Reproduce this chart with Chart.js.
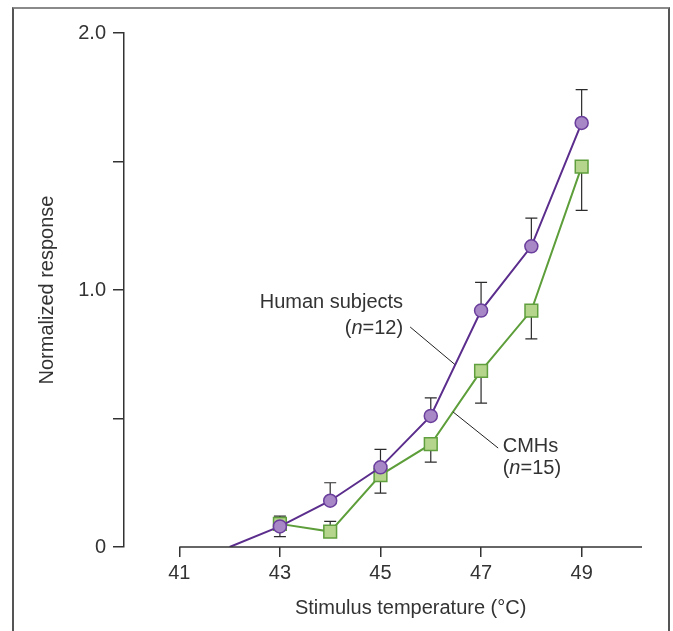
<!DOCTYPE html>
<html>
<head>
<meta charset="utf-8">
<script src="https://cdn.jsdelivr.net/npm/chart.js@4"></script>
<style>
  body { margin: 0; background: #fff; }
  #wrap { position: relative; width: 673px; height: 631px; overflow: hidden; }
  #frame { position: absolute; left: 12px; top: 7px; width: 658px; height: 700px; border: 2px solid #555; border-top-color: #8a8a8a; box-sizing: border-box; }
  canvas { position: absolute; left: 0; top: 0; }
</style>
</head>
<body>
<div id="wrap">
  <div id="frame"></div>
  <canvas id="c" width="673" height="631"></canvas>
</div>
<script>
// values
const humanTemps = [42, 43, 44, 45, 46, 47, 48, 49];
const humanResp = [0, 0.08, 0.18, 0.31, 0.51, 0.92, 1.17, 1.65];
const humanErrHigh = [null, 0.12, 0.25, 0.38, 0.58, 1.03, 1.28, 1.78];

const cmhTemps = [43, 44, 45, 46, 47, 48, 49];
const cmhResp = [0.09, 0.06, 0.28, 0.40, 0.685, 0.92, 1.48];
const cmhErrLow = [0.04, null, 0.21, 0.33, 0.56, 0.81, 1.31];
const cmhErrHigh = [null, 0.10, null, null, null, null, null];

const xTicks = [41, 43, 45, 47, 49];
const yTicks = [0, 0.5, 1, 1.5, 2];
const yTickLabels = { 0: '0', 1: '1.0', 2: '2.0' };

const FONT = '"Liberation Sans", Arial, sans-serif';
const INK = '#333';

const pts = (xs, ys) => xs.map((x, i) => ({ x: x, y: ys[i] }));

const extras = {
  id: 'extras',
  beforeDatasetsDraw(chart) {
    const { ctx, scales: { x, y } } = chart;
    ctx.save();
    ctx.strokeStyle = '#2b2b2b';
    ctx.lineWidth = 1.2;
    const bar = (t, v0, v1) => {
      const px = x.getPixelForValue(t);
      const a = y.getPixelForValue(v0), b = y.getPixelForValue(v1);
      ctx.beginPath();
      ctx.moveTo(px, a); ctx.lineTo(px, b);
      ctx.moveTo(px - 6, b); ctx.lineTo(px + 6, b);
      ctx.stroke();
    };
    humanTemps.forEach((t, i) => { if (humanErrHigh[i] != null) bar(t, humanResp[i], humanErrHigh[i]); });
    cmhTemps.forEach((t, i) => {
      if (cmhErrLow[i] != null) bar(t, cmhResp[i], cmhErrLow[i]);
      if (cmhErrHigh[i] != null) bar(t, cmhResp[i], cmhErrHigh[i]);
    });
    ctx.restore();
  },
  afterDraw(chart) {
    const { ctx, chartArea, scales: { x, y } } = chart;
    ctx.save();
    // x axis line, starting at the first tick
    ctx.strokeStyle = INK;
    ctx.lineWidth = 1.5;
    ctx.beginPath();
    ctx.moveTo(x.getPixelForValue(xTicks[0]), chartArea.bottom);
    ctx.lineTo(chartArea.right, chartArea.bottom);
    ctx.stroke();

    // x axis title, centred under the drawn axis
    ctx.fillStyle = INK;
    ctx.font = '20px ' + FONT;
    ctx.textAlign = 'center';
    ctx.textBaseline = 'middle';
    ctx.fillText('Stimulus temperature (°C)', (x.getPixelForValue(xTicks[0]) + chartArea.right) / 2, 608);

    // labels with leader lines
    const lead = (x0, y0, x1, y1) => {
      ctx.strokeStyle = '#222';
      ctx.lineWidth = 1;
      ctx.beginPath();
      ctx.moveTo(x.getPixelForValue(x0), y.getPixelForValue(y0));
      ctx.lineTo(x.getPixelForValue(x1), y.getPixelForValue(y1));
      ctx.stroke();
    };
    const nLabel = (px, py, num, align) => {
      const parts = [['(', '20px '], ['n', 'italic 20px '], ['=' + num + ')', '20px ']];
      let w = 0;
      parts.forEach(p => { ctx.font = p[1] + FONT; w += ctx.measureText(p[0]).width; });
      let cx = align === 'right' ? px - w : px;
      ctx.textAlign = 'left';
      parts.forEach(p => { ctx.font = p[1] + FONT; ctx.fillText(p[0], cx, py); cx += ctx.measureText(p[0]).width; });
    };
    ctx.fillStyle = INK;
    ctx.textBaseline = 'middle';
    ctx.font = '20px ' + FONT;
    ctx.textAlign = 'right';
    ctx.fillText('Human subjects', x.getPixelForValue(45.45), y.getPixelForValue(0.95));
    nLabel(x.getPixelForValue(45.45), y.getPixelForValue(0.852), 12, 'right');
    lead(45.59, 0.856, 46.48, 0.71);

    ctx.font = '20px ' + FONT;
    ctx.textAlign = 'left';
    ctx.fillText('CMHs', x.getPixelForValue(47.43), y.getPixelForValue(0.393));
    nLabel(x.getPixelForValue(47.43), y.getPixelForValue(0.307), 15, 'left');
    lead(46.44, 0.526, 47.34, 0.385);
    ctx.restore();
  }
};

new Chart(document.getElementById('c'), {
  type: 'line',
  data: {
    datasets: [
      {
        label: 'Human subjects',
        data: pts(humanTemps, humanResp),
        borderColor: '#5b2d8c',
        borderWidth: 2,
        backgroundColor: '#a887c6',
        pointBackgroundColor: '#a887c6',
        pointBorderColor: '#6a3e9c',
        pointBorderWidth: 1.5,
        pointRadius: humanTemps.map((t, i) => i === 0 ? 0 : 6.5),
        pointStyle: 'circle',
        tension: 0
      },
      {
        label: 'CMHs',
        data: pts(cmhTemps, cmhResp),
        borderColor: '#5d9e3a',
        borderWidth: 2,
        backgroundColor: '#b6d58c',
        pointBackgroundColor: '#b6d58c',
        pointBorderColor: '#5f9f3d',
        pointBorderWidth: 1.5,
        pointRadius: 9,
        pointStyle: 'rect',
        tension: 0
      }
    ]
  },
  options: {
    responsive: false,
    animation: false,
    layout: { padding: { left: 0, right: 31, top: 33, bottom: 0 } },
    plugins: { legend: { display: false }, tooltip: { enabled: false } },
    scales: {
      x: {
        type: 'linear',
        min: 39.9,
        max: 50.2,
        afterBuildTicks: s => { s.ticks = xTicks.map(v => ({ value: v })); },
        afterFit: s => { s.height = 84; },
        border: { display: false },
        grid: { drawOnChartArea: false, drawTicks: true, tickLength: 10, color: INK, lineWidth: 1.5 },
        ticks: { color: INK, font: { family: FONT, size: 20 }, padding: 4, maxRotation: 0 }
      },
      y: {
        min: 0,
        max: 2,
        afterBuildTicks: s => { s.ticks = yTicks.map(v => ({ value: v })); },
        afterFit: s => { s.width = 124; },
        border: { display: true, color: INK, width: 1.5 },
        grid: { drawOnChartArea: false, drawTicks: true, tickLength: 11, color: INK, lineWidth: 1.5 },
        ticks: {
          color: INK,
          font: { family: FONT, size: 20 },
          padding: 7,
          callback: v => yTickLabels[v] !== undefined ? yTickLabels[v] : ''
        },
        title: {
          display: true,
          text: 'Normalized response',
          color: INK,
          font: { family: FONT, size: 20 },
          padding: { top: 35, bottom: 0 }
        }
      }
    }
  },
  plugins: [extras]
});
</script>
</body>
</html>
